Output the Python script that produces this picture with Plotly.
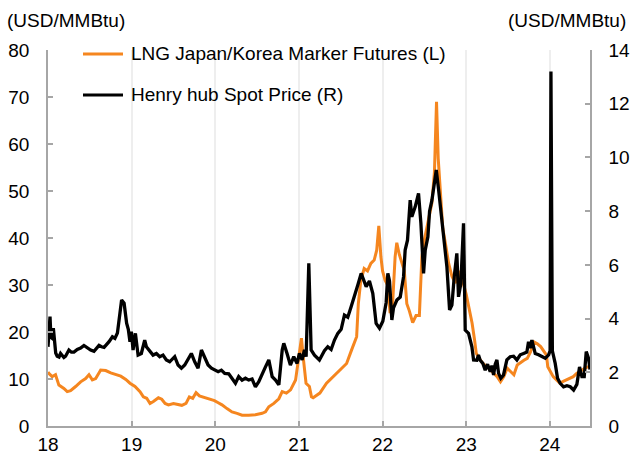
import plotly.graph_objects as go

# LNG Japan/Korea Marker Futures (left axis, USD/MMBtu); x = year (2-digit, decimal)
jkm_x = [18.0, 18.01, 18.05, 18.09, 18.13, 18.19, 18.23, 18.27, 18.33, 18.39, 18.45, 18.49, 18.53, 18.57,
         18.63, 18.69, 18.75, 18.81, 18.87, 18.93, 18.98, 19.04, 19.10, 19.14, 19.18, 19.22, 19.26, 19.32,
         19.36, 19.40, 19.44, 19.50, 19.56, 19.60, 19.65, 19.69, 19.73, 19.77, 19.81, 19.87, 19.93, 19.99,
         20.03, 20.08, 20.14, 20.20, 20.26, 20.32, 20.40, 20.48, 20.56, 20.60, 20.64, 20.70, 20.76, 20.80,
         20.85, 20.90, 20.96, 20.99, 21.03, 21.055, 21.085, 21.125, 21.15, 21.17, 21.25, 21.33, 21.45, 21.57,
         21.63, 21.69, 21.71, 21.74, 21.78, 21.82, 21.86, 21.90, 21.93, 21.955, 21.98, 22.0, 22.03, 22.06,
         22.09, 22.12, 22.15, 22.17, 22.20, 22.23, 22.26, 22.29, 22.32, 22.36, 22.40, 22.44, 22.47, 22.50,
         22.53, 22.56, 22.59, 22.62, 22.645, 22.665, 22.69, 22.72, 22.75, 22.79, 22.83, 22.87, 22.91, 22.94,
         22.97, 23.0, 23.03, 23.07, 23.10, 23.12, 23.17, 23.20, 23.25, 23.29, 23.33, 23.37, 23.41, 23.45,
         23.49, 23.53, 23.57, 23.61, 23.65, 23.69, 23.73, 23.77, 23.81, 23.85, 23.89, 23.93, 23.96, 23.975,
         24.005, 24.04, 24.08, 24.12, 24.16, 24.20, 24.24, 24.28, 24.32, 24.36, 24.40, 24.44, 24.47]
jkm_val = [11.5, 11.2, 10.5, 10.9, 8.7, 8.0, 7.3, 7.5, 8.4, 9.4, 10.1, 10.9, 9.8, 10.1,
           11.9, 11.8, 11.3, 10.9, 10.6, 9.9, 9.1, 8.4, 7.3, 6.2, 5.9, 4.8, 5.2, 6.0,
           5.7, 4.8, 4.5, 4.8, 4.5, 4.4, 4.8, 6.2, 5.9, 7.1, 6.4, 6.1, 5.7, 5.4,
           5.0, 4.5, 3.7, 3.0, 2.7, 2.3, 2.3, 2.4, 2.7, 3.0, 4.1, 4.8, 5.8, 7.3,
           7.0, 7.7, 9.8, 14.0, 18.7, 14.0, 9.1, 8.4, 6.2, 6.0, 7.0, 9.1, 11.2, 13.3,
           16.2, 19.0, 26.0, 31.0, 33.5, 33.0, 34.6, 35.3, 37.4, 42.6, 36.0, 33.0, 31.0, 30.0,
           24.0, 26.0, 36.0, 39.0, 36.5, 34.5, 33.0, 26.0, 24.5, 22.0, 23.5, 23.5, 36.0, 39.6,
           42.0, 44.5, 47.5, 54.0, 69.0, 57.0, 49.0, 42.0, 39.0, 34.6, 31.8, 30.4, 33.0, 31.5,
           30.0, 28.0, 25.4, 21.9, 18.3, 15.5, 14.0, 13.3, 12.6, 11.9, 11.2, 10.5, 9.4, 10.5,
           12.3, 11.5, 10.9, 13.0, 13.6, 14.0, 14.4, 15.8, 17.9, 17.5, 16.9, 15.8, 15.1, 12.6,
           11.6, 10.5, 9.8, 9.1, 9.5, 9.8, 10.1, 10.5, 11.2, 11.6, 12.0, 12.5, 12.6]

# Henry hub Spot Price (right axis, USD/MMBtu)
hh_x = [18.0, 18.008, 18.024, 18.035, 18.048, 18.064, 18.08, 18.092, 18.11, 18.132, 18.15, 18.17, 18.19,
        18.21, 18.25, 18.28, 18.31, 18.35, 18.39, 18.43, 18.47, 18.51, 18.55, 18.61, 18.64, 18.67, 18.73,
        18.77, 18.80, 18.83, 18.86, 18.88, 18.91, 18.94, 18.96, 18.98, 18.997, 19.017, 19.045, 19.077,
        19.116, 19.156, 19.176, 19.216, 19.256, 19.296, 19.336, 19.375, 19.415, 19.455, 19.495, 19.515,
        19.555, 19.595, 19.635, 19.675, 19.714, 19.754, 19.794, 19.834, 19.874, 19.914, 19.954, 19.994,
        20.034, 20.073, 20.113, 20.161, 20.201, 20.241, 20.28, 20.32, 20.36, 20.40, 20.44, 20.48, 20.52,
        20.56, 20.60, 20.64, 20.68, 20.72, 20.76, 20.80, 20.819, 20.858, 20.898, 20.938, 20.978, 21.006,
        21.038, 21.066, 21.086, 21.118, 21.146, 21.186, 21.245, 21.305, 21.345, 21.385, 21.425, 21.465,
        21.505, 21.544, 21.584, 21.624, 21.664, 21.704, 21.744, 21.764, 21.804, 21.843, 21.883, 21.923,
        21.963, 22.003, 22.023, 22.043, 22.063, 22.083, 22.111, 22.131, 22.171, 22.211, 22.251, 22.27,
        22.298, 22.33, 22.35, 22.39, 22.43, 22.458, 22.49, 22.51, 22.542, 22.562, 22.59, 22.61, 22.642,
        22.67, 22.697, 22.729, 22.769, 22.801, 22.829, 22.857, 22.888, 22.908, 22.936, 22.968, 22.988,
        23.028, 23.068, 23.088, 23.127, 23.147, 23.167, 23.199, 23.227, 23.255, 23.287, 23.307, 23.327,
        23.347, 23.367, 23.387, 23.414, 23.446, 23.486, 23.526, 23.566, 23.606, 23.646, 23.686, 23.725,
        23.745, 23.765, 23.785, 23.825, 23.865, 23.905, 23.945, 23.985, 24.003, 24.013, 24.03, 24.064,
        24.092, 24.124, 24.164, 24.204, 24.244, 24.284, 24.323, 24.355, 24.383, 24.411, 24.435, 24.463,
        24.48]
hh_val = [2.95, 3.5, 4.07, 3.3, 3.27, 3.64, 3.0, 2.72, 2.6, 2.57, 2.7, 2.64, 2.55,
          2.6, 2.83, 2.75, 2.75, 2.85, 2.9, 3.0, 2.9, 2.83, 2.78, 3.0, 2.95, 2.93, 3.14,
          3.32, 3.26, 3.46, 4.2, 4.69, 4.57, 3.83, 3.6, 3.14, 3.51, 2.83, 3.45, 2.64,
          2.7, 3.2, 2.95, 2.77, 2.64, 2.7, 2.58, 2.64, 2.46, 2.39, 2.52, 2.58,
          2.27, 2.15, 2.27, 2.46, 2.7, 2.39, 2.15, 2.83, 2.58, 2.27, 2.15, 2.08,
          2.02, 2.08, 1.96, 1.94, 1.78, 1.59, 1.84, 1.71, 1.78, 1.71, 1.75, 1.46, 1.65,
          1.96, 2.2, 2.46, 1.84, 1.71, 1.53, 2.83, 3.08, 2.7, 2.27, 2.58, 2.33, 2.7,
          2.46, 2.83, 2.58, 6.06, 2.83, 2.64, 2.46, 2.8, 2.95, 2.85, 3.2, 3.45,
          3.6, 4.13, 4.05, 4.44, 4.81, 5.25, 5.68, 5.5, 5.19, 5.4, 4.94, 3.82,
          3.64, 3.9, 4.32, 4.6, 5.68, 5.4, 3.95, 4.4, 4.69, 4.8, 5.56, 6.55,
          6.92, 8.41, 7.79, 8.16, 8.66, 7.55, 5.68, 6.55, 7.05, 8.0, 8.41, 8.91, 9.53,
          8.79, 8.0, 7.3, 5.93, 4.32, 4.5, 5.56, 6.43, 4.81, 5.3, 7.55, 3.57,
          3.45, 2.95, 2.46, 2.45, 2.64, 2.45, 2.33, 2.08, 2.3, 2.02, 2.25, 1.9,
          2.3, 2.46, 1.96, 1.78, 1.9, 2.46, 2.58, 2.6, 2.46, 2.65, 2.7, 2.75,
          3.14, 2.9, 3.2, 2.7, 2.65, 2.6, 2.52, 2.65, 2.8, 13.2, 2.8, 2.33,
          1.78, 1.59, 1.46, 1.5, 1.46, 1.34, 1.55, 2.2, 1.84, 1.84, 2.77, 2.52,
          2.1]

year_ticks = [18, 19, 20, 21, 22, 23, 24]
year_labels = ["18", "19", "20", "21", "22", "23", "24"]
series_names = ["LNG Japan/Korea Marker Futures (L)", "Henry hub Spot Price (R)"]
unit = "(USD/MMBtu)"

ORANGE = "#F5861F"
BLACK = "#000000"
AXIS = "#A6A6A6"
FONT = "Liberation Sans"
FS = 19

fig = go.Figure()
fig.add_trace(go.Scatter(x=jkm_x, y=jkm_val, mode="lines", name=series_names[0],
                         line=dict(color=ORANGE, width=3), yaxis="y", showlegend=False))
fig.add_trace(go.Scatter(x=hh_x, y=hh_val, mode="lines", name=series_names[1],
                         line=dict(color=BLACK, width=3.3), yaxis="y2", showlegend=False))

# plot area in pixels: x 48..590, y 50..426
L, R, T, B = 48, 40, 50, 34
W, H = 630, 460
pw, ph = W - L - R, H - T - B

def px(x):
    return (x - L) / pw

def py(y):
    return (H - B - y) / ph

# custom legend
for i, (name, col) in enumerate(zip(series_names, [ORANGE, BLACK])):
    yy = py(54 + i * 41)
    fig.add_shape(type="line", xref="paper", yref="paper", x0=px(83), x1=px(123), y0=yy, y1=yy,
                  line=dict(color=col, width=3))
    fig.add_annotation(xref="paper", yref="paper", x=px(129), y=yy, text=name, showarrow=False,
                       xanchor="left", yanchor="middle", font=dict(family=FONT, size=FS, color="#000"))

fig.add_annotation(xref="paper", yref="paper", x=px(5), y=py(21), text=unit, showarrow=False,
                   xanchor="left", yanchor="middle", font=dict(family=FONT, size=FS, color="#000"))
fig.add_annotation(xref="paper", yref="paper", x=px(628), y=py(21), text=unit, showarrow=False,
                   xanchor="right", yanchor="middle", font=dict(family=FONT, size=FS, color="#000"))

fig.update_layout(
    width=W, height=H,
    margin=dict(l=L, r=R, t=T, b=B, pad=0, autoexpand=False),
    paper_bgcolor="white", plot_bgcolor="white",
    font=dict(family=FONT, size=FS, color="#000"),
    xaxis=dict(range=[18, 24.48], tickvals=year_ticks, ticktext=year_labels,
               showgrid=True, gridcolor="#EEEEEE", gridwidth=1.5,
               showline=True, linecolor=AXIS, linewidth=1.5,
               ticks="inside", ticklen=5, tickcolor=AXIS, tickwidth=1.5,
               zeroline=False, tickfont=dict(size=FS), automargin=False),
    yaxis=dict(range=[0, 80], dtick=10, showgrid=False, showline=True, linecolor=AXIS, linewidth=1.5,
               ticks="inside", ticklen=5, tickcolor=AXIS, tickwidth=1.5, zeroline=False,
               tickfont=dict(size=FS), ticklabelstandoff=13, automargin=False),
    yaxis2=dict(range=[0, 14], dtick=2, overlaying="y", side="right", showgrid=False,
                showline=True, linecolor=AXIS, linewidth=1.5,
                ticks="inside", ticklen=5, tickcolor=AXIS, tickwidth=1.5, zeroline=False,
                tickfont=dict(size=FS), ticklabelstandoff=13, automargin=False),
)

fig.write_html("out.html", config={"displayModeBar": False},
               post_script="document.body.style.margin='0';document.body.style.overflow='hidden';")
